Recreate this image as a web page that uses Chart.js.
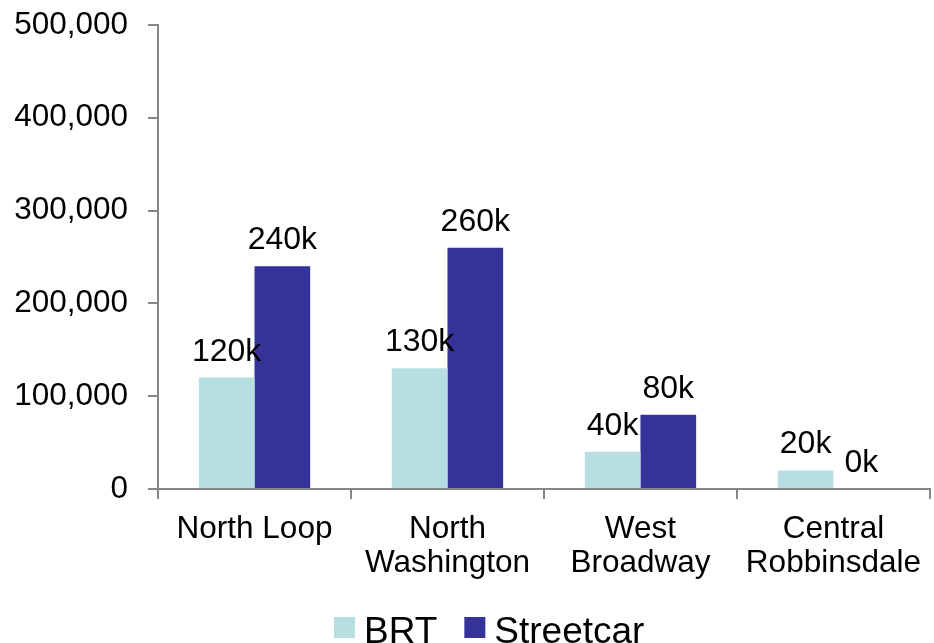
<!DOCTYPE html>
<html>
<head>
<meta charset="utf-8">
<script src="https://cdn.jsdelivr.net/npm/chart.js@4/dist/chart.umd.min.js"></script>
<style>
    html, body {
        margin: 0;
        padding: 0;
        background: #fff;
        overflow: hidden;
    }
    #frame {
        width: 934px;
        height: 643px;
        overflow: hidden;
    }
    #wrap {
        width: 934px;
        height: 657px;
        margin-top: -14px;
    }
</style>
</head>
<body>
<div id="frame">
    <div id="wrap"><canvas id="myChart"></canvas></div>
</div>
<script>
const categories = [['North Loop'], ['North', 'Washington'], ['West', 'Broadway'], ['Central', 'Robbinsdale']];
const brtData = [120000, 130000, 40000, 20000];
const streetcarData = [240000, 260000, 80000, 0];
const yTicks = [0, 100000, 200000, 300000, 400000, 500000];

const FONT = '"Liberation Sans", Arial, sans-serif';

/**
 * 棒の上に値を「120k」形式で描画します。
 */
const valueLabelPlugin = {
    id: 'valueLabel',
    afterDatasetsDraw: (chart) => {
        const ctx = chart.ctx;
        ctx.save();
        ctx.font = '32px ' + FONT;
        ctx.fillStyle = '#000';
        ctx.textAlign = 'center';
        ctx.textBaseline = 'alphabetic';

        chart.data.datasets.forEach((dataset, i) => {
            const meta = chart.getDatasetMeta(i);
            meta.data.forEach((bar, j) => {
                const text = Math.round(dataset.data[j] / 1000) + 'k';
                ctx.fillText(text, bar.x, bar.y - 17);
            });
        });

        ctx.restore();
    },
};

/**
 * 凡例をグラフ下部に描画します。
 */
const bottomLegendPlugin = {
    id: 'bottomLegend',
    afterDraw: (chart) => {
        const ctx = chart.ctx;
        const baseline = chart.height;
        const boxSize = 21;
        let x = 334;

        ctx.save();
        ctx.font = '37px ' + FONT;
        ctx.textAlign = 'left';
        ctx.textBaseline = 'alphabetic';

        chart.data.datasets.forEach((dataset) => {
            ctx.fillStyle = dataset.backgroundColor;
            ctx.fillRect(x, baseline - 26, boxSize, boxSize);
            x += boxSize + 9;

            ctx.fillStyle = '#000';
            ctx.fillText(dataset.label, x, baseline);
            x += ctx.measureText(dataset.label).width + 27;
        });

        ctx.restore();
    },
};

/**
 * グラフの生成を行います。
 */
const createChart = () => {
    const axisColor = '#868686';

    const config = {
        type: 'bar',
        data: {
            labels: categories,
            datasets: [
                {
                    label: 'BRT',
                    backgroundColor: '#b7dfe2',
                    borderWidth: 0,
                    data: brtData,
                },
                {
                    label: 'Streetcar',
                    backgroundColor: '#353399',
                    borderWidth: 0,
                    data: streetcarData,
                },
            ],
        },
        options: {
            responsive: true,
            maintainAspectRatio: false,
            animation: false,
            categoryPercentage: 0.577,
            barPercentage: 1,
            layout: {
                padding: { left: 0, right: 0, top: 8, bottom: 50 },
            },
            plugins: {
                tooltip: { enabled: false },
                legend: { display: false },
            },
            scales: {
                x: {
                    grid: {
                        drawOnChartArea: false,
                        drawTicks: true,
                        tickLength: 10,
                        color: axisColor,
                        lineWidth: 2,
                    },
                    border: { display: true, color: axisColor, width: 2 },
                    ticks: {
                        color: '#000',
                        font: { family: FONT, size: 31.5, lineHeight: 1.08 },
                        padding: 13,
                        maxRotation: 0,
                        autoSkip: false,
                    },
                },
                y: {
                    min: 0,
                    max: 500000,
                    afterBuildTicks: (scale) => {
                        scale.ticks = yTicks.map((v) => ({ value: v }));
                    },
                    afterFit: (scale) => {
                        scale.width = 158;
                    },
                    grid: {
                        drawOnChartArea: false,
                        drawTicks: true,
                        tickLength: 10,
                        color: axisColor,
                        lineWidth: 2,
                    },
                    border: { display: true, color: axisColor, width: 2 },
                    ticks: {
                        color: '#000',
                        font: { family: FONT, size: 31.5 },
                        padding: 20,
                        callback: (value) => value.toLocaleString('en-US'),
                    },
                },
            },
        },
        plugins: [valueLabelPlugin, bottomLegendPlugin],
    };

    return new Chart(document.getElementById('myChart'), config);
};

createChart();
</script>
</body>
</html>
